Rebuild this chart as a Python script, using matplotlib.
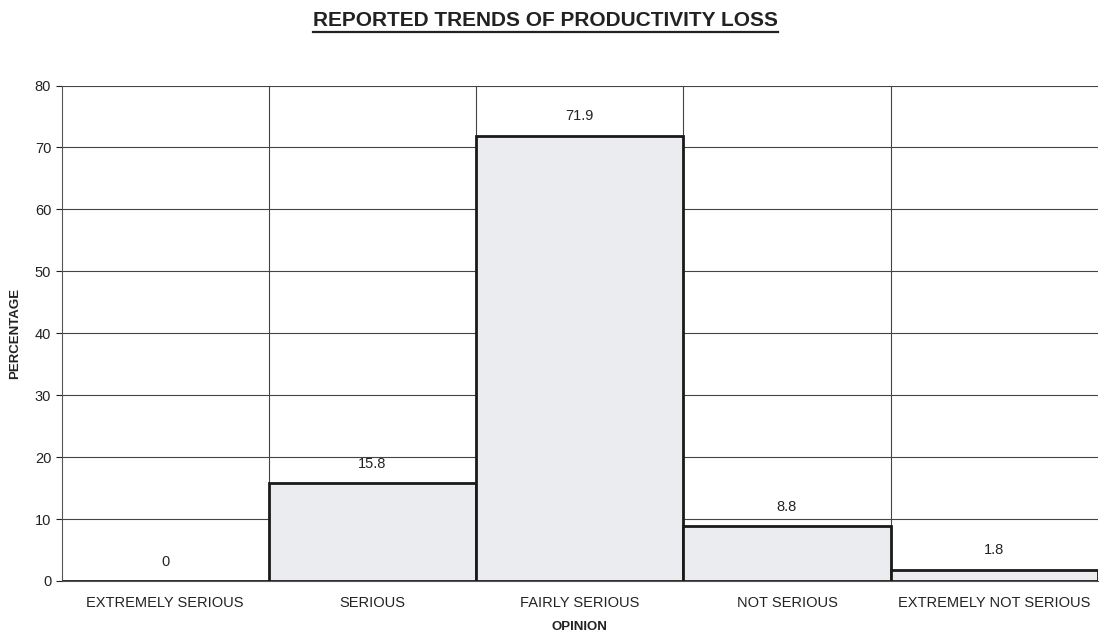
import numpy as np
import matplotlib
matplotlib.use('Agg')
import matplotlib.pyplot as plt
from matplotlib.lines import Line2D

plt.rcParams['font.family'] = ['Liberation Sans', 'DejaVu Sans']

opinions = ['EXTREMELY SERIOUS', 'SERIOUS', 'FAIRLY SERIOUS', 'NOT SERIOUS',
            'EXTREMELY NOT SERIOUS']
percentages = [0, 15.8, 71.9, 8.8, 1.8]
value_labels = ['0', '15.8', '71.9', '8.8', '1.8']


def main():
    fig = plt.figure(figsize=(11, 6.36), dpi=100)
    ax = fig.add_axes([0.056, 0.0865, 0.942, 0.779])
    x = np.arange(len(opinions))

    ax.bar(x, percentages, width=1.0, color='#eaecf0', edgecolor='#1a1a1a',
           linewidth=2, zorder=3)
    for xi, v, lab in zip(x, percentages, value_labels):
        ax.text(xi, v + 2.0, lab, ha='center', va='bottom', fontsize=10.5,
                color='#222222', zorder=4)

    ax.set_xlim(-0.5, len(opinions) - 0.5)
    ax.set_ylim(0, 80)
    ax.set_yticks(np.arange(0, 81, 10))
    ax.set_xticks(x)
    ax.set_xticklabels(opinions, fontsize=10.5, color='#222222')
    ax.tick_params(axis='x', length=0, pad=11)
    ax.tick_params(axis='y', labelsize=10.5, colors='#222222', length=4)

    # horizontal grid and category separators
    ax.grid(axis='y', color='#444444', linewidth=0.8, zorder=0)
    for b in np.arange(0.5, len(opinions) - 0.5, 1):
        ax.axvline(b, color='#444444', linewidth=0.8, zorder=0)
    for side in ['top', 'right']:
        ax.spines[side].set_visible(False)
    ax.spines['left'].set_color('#555555')
    ax.spines['bottom'].set_color('#555555')
    ax.axhline(80, color='#999999', linewidth=1.2, linestyle=':', zorder=1)

    ax.set_xlabel('OPINION', fontsize=9.5, fontweight='bold', labelpad=8,
                  color='#222222')
    ax.set_ylabel('PERCENTAGE', fontsize=9.5, fontweight='bold', labelpad=10,
                  color='#222222')

    title = fig.text(0.496, 0.968, 'REPORTED TRENDS OF PRODUCTIVITY LOSS',
                     ha='center', va='center', fontsize=15,
                     fontweight='bold', color='#222222')
    fig.canvas.draw()
    bb = title.get_window_extent().transformed(fig.transFigure.inverted())
    fig.add_artist(Line2D([bb.x0, bb.x1], [bb.y0 - 0.004, bb.y0 - 0.004],
                          color='#222222', linewidth=1.6))

    fig.savefig('out.png', dpi=100)


if __name__ == '__main__':
    main()
